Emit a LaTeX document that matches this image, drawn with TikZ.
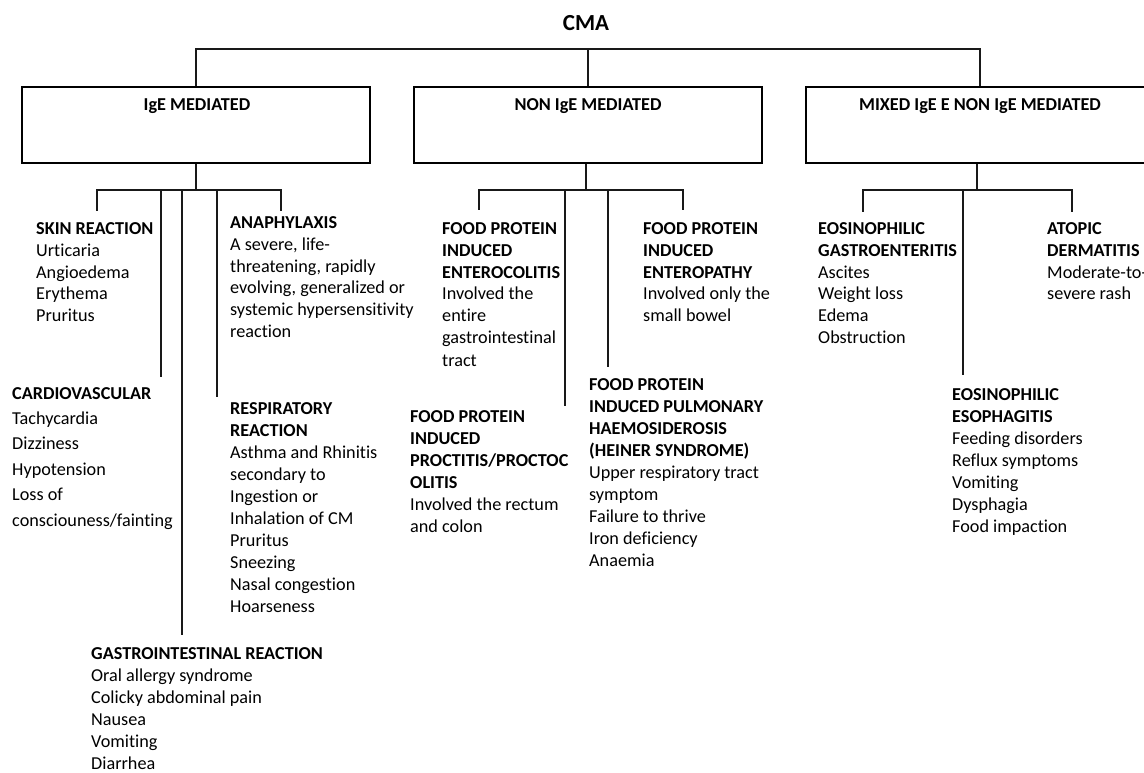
\documentclass[tikz,border=0pt]{standalone}
\usepackage{fontspec}
\setmainfont[Ligatures=NoCommon]{Carlito}
\newcommand\lns[2][22pt]{\vtop{\baselineskip=#1\relax\lineskiplimit=-20pt\halign{##\hfil\cr #2\crcr}}}
\begin{document}
\begin{tikzpicture}[x=1pt,y=-1pt,
  box/.style={draw=black,line width=1.3pt,minimum width=348pt,minimum height=76pt,inner sep=0pt},
  conn/.style={draw=black!90,line width=1.2pt},
  txt/.style={anchor=base west,inner sep=0pt,font=\fontsize{18.2}{22}\selectfont,text=black},
  lbl/.style={anchor=base,inner sep=0pt,font=\fontsize{18.2}{22}\selectfont\bfseries,text=black}]
\useasboundingbox (0,0) rectangle (1144,773);
% title
\node[lbl,font=\fontsize{23}{26}\selectfont\bfseries] (cma) at (586,31) {CMA};
% boxes
\node[box] (ige) at (196,125) {};
\node[box] (non) at (588,125) {};
\node[box] (mix) at (980,125) {};
\node[lbl] (igel) at (197,111) {IgE MEDIATED};
\node[lbl] (nonl) at (588,111) {NON IgE MEDIATED};
\node[lbl] (mixl) at (980,111) {MIXED IgE E NON IgE MEDIATED};
% top bus
\coordinate (top) at (588,49);
\draw[conn] (ige.north) |- (top) -| (mix.north);
\draw[conn] (top) -- (non.north);
% bus coordinates
\coordinate (b1) at (196,190);
\coordinate (b2) at (586,190);
\coordinate (b3) at (977,190);
% drop ends
\coordinate (e11) at (97,211);
\coordinate (e12) at (161,377);
\coordinate (e13) at (182,635);
\coordinate (e14) at (217,397);
\coordinate (e15) at (281,211);
\coordinate (e21) at (479,210);
\coordinate (e22) at (565,406);
\coordinate (e23) at (608,367);
\coordinate (e24) at (683,210);
\coordinate (e31) at (863,212);
\coordinate (e32) at (963,375);
\coordinate (e33) at (1072,212);
% IgE tree
\draw[conn] (ige.south) -- (b1);
\draw[conn] (b1) -| (e11);
\draw[conn] (b1) -| (e15);
\draw[conn] (e12 |- b1) -- (e12);
\draw[conn] (e13 |- b1) -- (e13);
\draw[conn] (e14 |- b1) -- (e14);
% non IgE tree
\draw[conn] (non.south -| b2) -- (b2);
\draw[conn] (b2) -| (e21);
\draw[conn] (b2) -| (e24);
\draw[conn] (e22 |- b2) -- (e22);
\draw[conn] (e23 |- b2) -- (e23);
% mixed tree
\draw[conn] (mix.south -| b3) -- (b3);
\draw[conn] (b3) -| (e31);
\draw[conn] (b3) -| (e33);
\draw[conn] (e32 |- b3) -- (e32);
% texts
\node[txt] (skin) at (36,234) {\lns{\textbf{SKIN REACTION}\cr Urticaria\cr Angioedema\cr Erythema\cr Pruritus}};
\node[txt] (anaph) at (230,228) {\lns{\textbf{ANAPHYLAXIS}\cr A severe, life-\cr threatening, rapidly\cr evolving, generalized or\cr systemic hypersensitivity\cr reaction}};
\node[txt] (cardio) at (12,399) {\lns[25.4pt]{\textbf{CARDIOVASCULAR}\cr Tachycardia\cr Dizziness\cr Hypotension\cr Loss of\cr consciouness/fainting}};
\node[txt] (resp) at (230,414) {\lns{\textbf{RESPIRATORY}\cr \textbf{REACTION}\cr Asthma and Rhinitis\cr secondary to\cr Ingestion or\cr Inhalation of CM\cr Pruritus\cr Sneezing\cr Nasal congestion\cr Hoarseness}};
\node[txt] (gi) at (91,659) {\lns{\textbf{GASTROINTESTINAL REACTION}\cr Oral allergy syndrome\cr Colicky abdominal pain\cr Nausea\cr Vomiting\cr Diarrhea}};
\node[txt] (fpiec) at (442,234) {\lns{\textbf{FOOD PROTEIN}\cr \textbf{INDUCED}\cr \textbf{ENTEROCOLITIS}\cr Involved the\cr entire\cr gastrointestinal\cr tract}};
\node[txt] (fpiep) at (643,234) {\lns{\textbf{FOOD PROTEIN}\cr \textbf{INDUCED}\cr \textbf{ENTEROPATHY}\cr Involved only the\cr small bowel}};
\node[txt] (fpip) at (410,422) {\lns{\textbf{FOOD PROTEIN}\cr \textbf{INDUCED}\cr \textbf{PROCTITIS/PROCTOC}\cr \textbf{OLITIS}\cr Involved the rectum\cr and colon}};
\node[txt] (fpph) at (589,390) {\lns{\textbf{FOOD PROTEIN}\cr \textbf{INDUCED PULMONARY}\cr \textbf{HAEMOSIDEROSIS}\cr \textbf{(HEINER SYNDROME)}\cr Upper respiratory tract\cr symptom\cr Failure to thrive\cr Iron deficiency\cr Anaemia}};
\node[txt] (eg) at (818,234) {\lns{\textbf{EOSINOPHILIC}\cr \textbf{GASTROENTERITIS}\cr Ascites\cr Weight loss\cr Edema\cr Obstruction}};
\node[txt] (ad) at (1047,234) {\lns{\textbf{ATOPIC}\cr \textbf{DERMATITIS}\cr Moderate-to-\cr severe rash}};
\node[txt] (ee) at (952,400) {\lns{\textbf{EOSINOPHILIC}\cr \textbf{ESOPHAGITIS}\cr Feeding disorders\cr Reflux symptoms\cr Vomiting\cr Dysphagia\cr Food impaction}};
\end{tikzpicture}
\end{document}
